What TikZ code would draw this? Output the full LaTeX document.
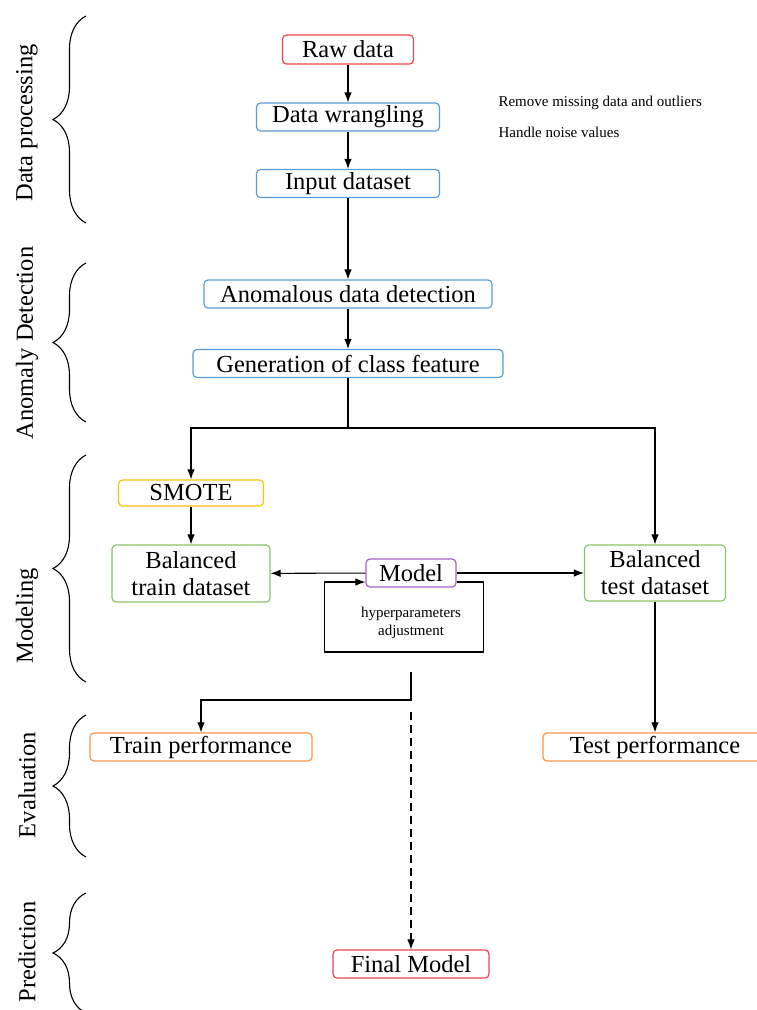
\documentclass[tikz,border=0pt]{standalone}
\usepackage{fontspec}
\setmainfont{Liberation Serif}
\usetikzlibrary{arrows.meta,decorations.pathreplacing}
\definecolor{boxred}{HTML}{E8474C}
\definecolor{boxblue}{HTML}{5B9BD5}
\definecolor{boxgold}{HTML}{FFC000}
\definecolor{boxgreen}{HTML}{8CC26A}
\definecolor{boxpurple}{HTML}{A45FC8}
\definecolor{boxorange}{HTML}{F79646}
\tikzset{
  frame/.style={
      rectangle, draw=#1, line width=1.2pt,
      rounded corners=4pt, align=center,
      minimum height=28pt, inner sep=2pt,
      font=\fontsize{24.5}{27}\selectfont,
  },
  flow/.style={
    draw, -{Latex[length=10pt,width=7.5pt]}, line width=1.05pt,
  },
  phase/.style={
    rotate=90, font=\fontsize{24.5}{27}\selectfont,
  },
  curly/.style={
    decorate, decoration={brace,amplitude=33pt}, line width=1.1pt,
  },
  note/.style={
    align=center, font=\fontsize{15}{18}\selectfont,
  }
}

\begin{document}
\begin{tikzpicture}[x=1pt,y=-1pt]
\useasboundingbox (0,0) rectangle (756,1010);

% phases on the left
\draw [curly] (86,223) -- (86,16);
\draw [curly] (86,422) -- (86,263);
\draw [curly] (86,682) -- (86,455);
\draw [curly] (86,857) -- (86,715);
\draw [curly] (86,1013) -- (86,893);
\node [phase] (dataproc) at (27,123) {Data processing};
\node [phase] (anomaly) at (27,343) {Anomaly Detection};
\node [phase] (modeling) at (27,616) {Modeling};
\node [phase] (evaluation) at (27,785) {Evaluation};
\node [phase] (prediction) at (27,952) {Prediction};

% boxes
\node [frame=boxred, minimum width=131pt, minimum height=29pt] (raw) at (348,49.5) {Raw data};
\node [frame=boxblue, minimum width=183pt] (wrangle) at (348,117) {Data wrangling};
\node [frame=boxblue, minimum width=183pt] (input) at (348,183.5) {Input dataset};
\node [frame=boxblue, minimum width=288pt] (anomal) at (348,294) {Anomalous data detection};
\node [frame=boxblue, minimum width=310pt] (classfeat) at (348,363.5) {Generation of class feature};
\node [frame=boxgold, minimum width=145pt, minimum height=26pt] (smote) at (191,493) {SMOTE};
\node [frame=boxgreen, minimum width=158pt, minimum height=57pt] (trainset) at (191,573.5) {Balanced\\train dataset};
\node [frame=boxpurple, minimum width=90pt] (model) at (411,573) {Model};
\node [frame=boxgreen, minimum width=141pt, minimum height=56pt] (testset) at (655,573) {Balanced\\test dataset};
\node [frame=boxorange, minimum width=222pt] (trainperf) at (201,747) {Train performance};
\node [frame=boxorange, minimum width=224pt] (testperf) at (655,747) {Test performance};
\node [frame=boxred, minimum width=156pt] (final) at (411,964) {Final Model};

% notes
\node [note, anchor=west] (missing) at (495,103) {Remove missing data and outliers};
\node [note, anchor=west] (noise) at (495,132) {Handle noise values};
\node [note] (hyper) at (411,623) {hyperparameters\\adjustment};

\coordinate (split) at (348,428);
\coordinate (evaltop) at (411,672);
\coordinate (dashtop) at (411,712);

% connectors
\draw [flow] (raw) -- (wrangle);
\draw [flow] (wrangle) -- (input);
\draw [flow] (input) -- (anomal);
\draw [flow] (anomal) -- (classfeat);
\draw [line width=1.05pt] (classfeat) -- (split);
\draw [flow] (split) -| (smote);
\draw [flow] (split) -| (testset);
\draw [flow] (smote) -- (trainset);
\draw [flow] (model) -- (trainset);
\draw [flow] (model) -- (testset);
\draw [flow] ([yshift=-9pt]model.east) -- ++(27,0) -- ++(0,70) -- ++(-159,0) -- ++(0,-70) -- ([yshift=-9pt]model.west);
\draw [flow] (evaltop) -- ++(0,28) -| (trainperf);
\draw [flow] (testset) -- (testperf);
\draw [flow, dash pattern=on 8pt off 5pt] (dashtop) -- (final);
\end{tikzpicture}
\end{document}
